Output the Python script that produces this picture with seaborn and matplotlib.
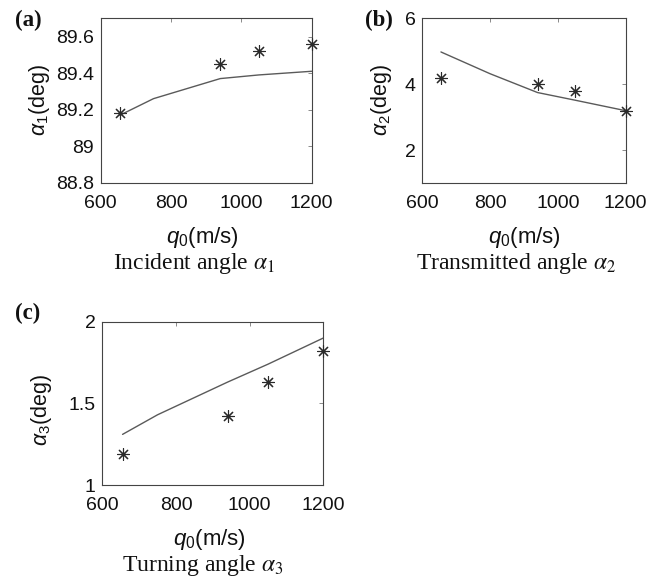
import matplotlib
matplotlib.use("Agg")
import matplotlib.pyplot as plt
import seaborn as sns
import pandas as pd

sns.set_style("white")
plt.rcParams['font.family'] = ['Liberation Sans', 'DejaVu Sans']
plt.rcParams['mathtext.fontset'] = 'custom'
plt.rcParams['mathtext.it'] = 'Liberation Sans:italic'
plt.rcParams['mathtext.rm'] = 'Liberation Sans'

# Data
q0_exp = [655, 940, 1050, 1200]
a1_exp = [89.18, 89.45, 89.52, 89.56]
a2_exp = [4.2, 4.0, 3.8, 3.2]
a3_exp = [1.19, 1.42, 1.63, 1.82]

q0_a1_line = [655, 750, 940, 1050, 1200]
a1_line = [89.17, 89.26, 89.37, 89.39, 89.41]
q0_a2_line = [655, 800, 940, 1050, 1200]
a2_line = [4.98, 4.32, 3.75, 3.52, 3.2]
q0_a3_line = [655, 750, 940, 1050, 1200]
a3_line = [1.31, 1.43, 1.63, 1.74, 1.90]

xticks = [600, 800, 1000, 1200]

W, H = 664, 584
fig = plt.figure(figsize=(W / 100, H / 100), dpi=100)


def make_ax(l, r, t, b):
    return fig.add_axes([l / W, 1 - b / H, (r - l) / W, (b - t) / H])


def fx(x):
    return x / W


def fy(y):
    return 1 - y / H


panels = [
    dict(box=(100.7, 311.7, 18.3, 182.7), x_line=q0_a1_line, y_line=a1_line, y_exp=a1_exp,
         ylim=(88.8, 89.7), yticks=[88.8, 89.0, 89.2, 89.4, 89.6],
         ytl=['88.8', '89', '89.2', '89.4', '89.6'], ylabel=r'$\alpha_1$(deg)',
         tag='(a)', tagxy=(15, 20.7), ylabx=40, ylaby=99.5, capx=193.5, xlabx=202.5,
         caption=r'Incident angle $\alpha_1$'),
    dict(box=(422.3, 625.7, 18.3, 183.3), x_line=q0_a2_line, y_line=a2_line, y_exp=a2_exp,
         ylim=(1, 6), yticks=[2, 4, 6], ytl=['2', '4', '6'], ylabel=r'$\alpha_2$(deg)',
         tag='(b)', tagxy=(365, 20.7), ylabx=381, ylaby=99.5, capx=515.5, xlabx=524,
         caption=r'Transmitted angle $\alpha_2$'),
    dict(box=(102.3, 323.3, 321.7, 485.0), x_line=q0_a3_line, y_line=a3_line, y_exp=a3_exp,
         ylim=(1, 2), yticks=[1, 1.5, 2], ytl=['1', '1.5', '2'], ylabel=r'$\alpha_3$(deg)',
         tag='(c)', tagxy=(15, 313), ylabx=42, ylaby=410, capx=203, xlabx=209,
         caption=r'Turning angle $\alpha_3$'),
]

for p in panels:
    l, r, t, b = p['box']
    ax = make_ax(l, r, t, b)
    df_line = pd.DataFrame({'q0': p['x_line'], 'a': p['y_line']})
    df_exp = pd.DataFrame({'q0': q0_exp, 'a': p['y_exp']})
    sns.lineplot(data=df_line, x='q0', y='a', ax=ax, color='#5a5a5a', linewidth=1.0)
    sns.scatterplot(data=df_exp, x='q0', y='a', ax=ax, marker=(8, 2, 0), s=75,
                    color='#2a2a2a', edgecolor='#2a2a2a', linewidth=0.8, clip_on=False, zorder=5)
    ax.set_xlim(600, 1200)
    ax.set_ylim(*p['ylim'])
    ax.set_xticks(xticks)
    ax.set_xticklabels([str(v) for v in xticks])
    ax.set_yticks(p['yticks'])
    ax.set_yticklabels(p['ytl'])
    ax.tick_params(direction='in', length=3, width=0.6, labelsize=14, labelcolor='#111111',
                   color='#777777', top=True, right=True)
    ax.tick_params(axis='x', pad=8.5)
    ax.tick_params(axis='y', pad=4.8)
    for s in ax.spines.values():
        s.set_color('#444444')
        s.set_linewidth(0.8)
    ax.set_xlabel('')
    ax.set_ylabel('')
    # axis labels
    fig.text(fx(p['xlabx']), fy(b + 60), r'$q_{\mathit{0}}$(m/s)', ha='center', va='baseline',
             fontsize=16, color='#111111')
    fig.text(fx(p['ylabx']), fy(p['ylaby']), p['ylabel'], ha='center', va='center',
             rotation=90, fontsize=15.5, color='#111111')
    # caption
    fig.text(fx(p['capx']), fy(b + 86), p['caption'], ha='center', va='baseline',
             family='Liberation Serif', fontsize=17, math_fontfamily='stix', color='#111111')
    # panel tag
    tx, ty = p['tagxy']
    fig.text(fx(tx), fy(ty), p['tag'], ha='left', va='center',
             family='Liberation Serif', fontweight='bold', fontsize=16.5, color='#111111')

fig.savefig('out.png', dpi=100)
